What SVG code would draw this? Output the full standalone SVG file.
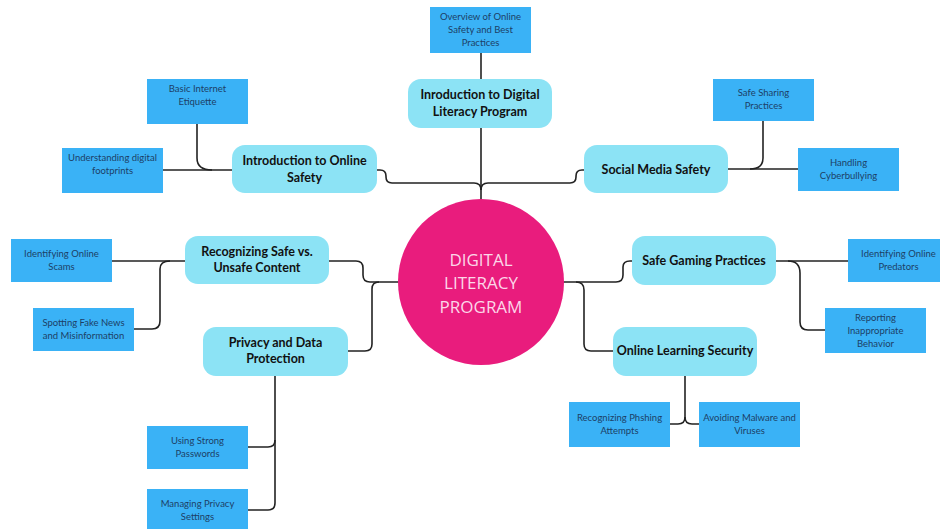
<svg xmlns="http://www.w3.org/2000/svg" width="940" height="529" viewBox="0 0 940 529">
<style>
.sub{fill:#3ab2f6}
.main{fill:#8ce3f5}
.st{font-family:Lato,"Liberation Sans",sans-serif;font-size:9.5px;fill:#1d3f66;text-anchor:middle}
.mt{font-family:Lato,"Liberation Sans",sans-serif;font-size:12.5px;font-weight:bold;fill:#111;text-anchor:middle}
.ct{font-family:"Open Sans","Liberation Sans",sans-serif;font-size:17px;fill:#fcd6e8;text-anchor:middle}
.c{fill:none;stroke:#222;stroke-width:1.6}
</style>
<rect width="940" height="529" fill="#fff"/>
<g id="connectors">
<path class="c" d="M481,53 V79"/>
<path class="c" d="M481,128 V200"/>
<path class="c" d="M377,170 H380 Q386,170 386,176 V177 Q386,183 392,183 H474 Q481,183 481,190"/>
<path class="c" d="M584,170 H582 Q576,170 576,176 V177 Q576,183 570,183 H488 Q481,183 481,190"/>
<path class="c" d="M163,170 H232"/>
<path class="c" d="M197,124 V158 Q197,170 212,170"/>
<path class="c" d="M728,169 H798"/>
<path class="c" d="M763,121 V158 Q763,169 750,169"/>
<path class="c" d="M112,261 H185"/>
<path class="c" d="M134,329 H152 Q160,329 160,321 V269 Q160,261 170,261"/>
<path class="c" d="M329,261 H356 Q363,261 363,268 V275 Q363,282 370,282 H399"/>
<path class="c" d="M348,351 H365 Q372,351 372,344 V289 Q372,282 379,282"/>
<path class="c" d="M275,376 V503 Q275,510 268,510 H248"/>
<path class="c" d="M248,447 H268 Q275,447 275,440"/>
<path class="c" d="M563,282 H616 Q623,282 623,275 V267 Q623,261 630,261 H632"/>
<path class="c" d="M576,282 Q584,282 584,290 V344 Q584,351 591,351 H613"/>
<path class="c" d="M776,261 H848"/>
<path class="c" d="M788,261 Q800,261 800,273 V322 Q800,330 808,330 H825"/>
<path class="c" d="M685,376 V417 Q685,424 678,424 H670"/>
<path class="c" d="M685,417 Q685,424 692,424 H699"/>
</g>
<g id="center">
<circle cx="481" cy="282" r="83" fill="#e91c7d"/>
<text class="ct" x="481" y="265.5">DIGITAL</text>
<text class="ct" x="481" y="289">LITERACY</text>
<text class="ct" x="481" y="312.5">PROGRAM</text>
</g>
<g id="intro-digital">
<rect class="main" x="408" y="79" width="144" height="49" rx="13"/>
<text class="mt" x="480" y="99">Inroduction to Digital</text>
<text class="mt" x="480" y="116">Literacy Program</text>
</g>
<g id="overview">
<rect class="sub" x="430" y="7" width="101" height="46"/>
<text class="st" x="480.5" y="20">Overview of Online</text>
<text class="st" x="480.5" y="33">Safety and Best</text>
<text class="st" x="480.5" y="46">Practices</text>
</g>
<g id="intro-online">
<rect class="main" x="232" y="145" width="145" height="48" rx="13"/>
<text class="mt" x="304.5" y="165">Introduction to Online</text>
<text class="mt" x="304.5" y="182">Safety</text>
</g>
<g id="basic-etiquette">
<rect class="sub" x="147" y="79" width="101" height="45"/>
<text class="st" x="197.5" y="92">Basic Internet</text>
<text class="st" x="197.5" y="105">Etiquette</text>
</g>
<g id="footprints">
<rect class="sub" x="62" y="148" width="101" height="45"/>
<text class="st" x="112.5" y="161">Understanding digital</text>
<text class="st" x="112.5" y="174">footprints</text>
</g>
<g id="social-media">
<rect class="main" x="584" y="145" width="144" height="48" rx="13"/>
<text class="mt" x="656" y="174">Social Media Safety</text>
</g>
<g id="safe-sharing">
<rect class="sub" x="713" y="79" width="101" height="42"/>
<text class="st" x="763.5" y="96">Safe Sharing</text>
<text class="st" x="763.5" y="109">Practices</text>
</g>
<g id="cyberbullying">
<rect class="sub" x="798" y="148" width="101" height="43"/>
<text class="st" x="848.5" y="166">Handling</text>
<text class="st" x="848.5" y="179">Cyberbullying</text>
</g>
<g id="recognizing">
<rect class="main" x="185" y="236" width="144" height="48" rx="13"/>
<text class="mt" x="257" y="256">Recognizing Safe vs.</text>
<text class="mt" x="257" y="272">Unsafe Content</text>
</g>
<g id="scams">
<rect class="sub" x="11" y="239" width="101" height="43"/>
<text class="st" x="61.5" y="257">Identifying Online</text>
<text class="st" x="61.5" y="270">Scams</text>
</g>
<g id="fake-news">
<rect class="sub" x="33" y="308" width="101" height="43"/>
<text class="st" x="83.5" y="326">Spotting Fake News</text>
<text class="st" x="83.5" y="339">and Misinformation</text>
</g>
<g id="privacy">
<rect class="main" x="203" y="327" width="145" height="49" rx="13"/>
<text class="mt" x="275.5" y="347">Privacy and Data</text>
<text class="mt" x="275.5" y="363">Protection</text>
</g>
<g id="passwords">
<rect class="sub" x="147" y="426" width="101" height="43"/>
<text class="st" x="197.5" y="444">Using Strong</text>
<text class="st" x="197.5" y="457">Passwords</text>
</g>
<g id="privacy-settings">
<rect class="sub" x="147" y="489" width="101" height="40"/>
<text class="st" x="197.5" y="507">Managing Privacy</text>
<text class="st" x="197.5" y="520">Settings</text>
</g>
<g id="safe-gaming">
<rect class="main" x="632" y="236" width="144" height="49" rx="13"/>
<text class="mt" x="704" y="265">Safe Gaming Practices</text>
</g>
<g id="predators">
<rect class="sub" x="848" y="239" width="101" height="43"/>
<text class="st" x="898.5" y="257">Identifying Online</text>
<text class="st" x="898.5" y="270">Predators</text>
</g>
<g id="reporting">
<rect class="sub" x="825" y="308" width="101" height="45"/>
<text class="st" x="875.5" y="321">Reporting</text>
<text class="st" x="875.5" y="334">Inappropriate</text>
<text class="st" x="875.5" y="347">Behavior</text>
</g>
<g id="online-learning">
<rect class="main" x="613" y="327" width="144" height="49" rx="13"/>
<text class="mt" x="685" y="355">Online Learning Security</text>
</g>
<g id="phishing">
<rect class="sub" x="569" y="402" width="101" height="45"/>
<text class="st" x="619.5" y="421">Recognizing Phshing</text>
<text class="st" x="619.5" y="434">Attempts</text>
</g>
<g id="malware">
<rect class="sub" x="699" y="402" width="101" height="45"/>
<text class="st" x="749.5" y="421">Avoiding Malware and</text>
<text class="st" x="749.5" y="434">Viruses</text>
</g>
</svg>
